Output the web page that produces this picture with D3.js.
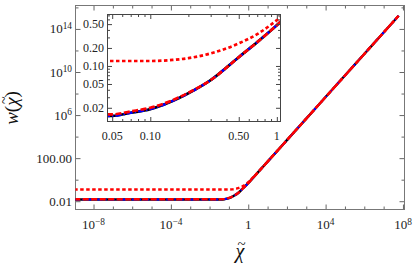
<!DOCTYPE html>
<html>
<head>
<meta charset="utf-8">
<script src="https://cdn.jsdelivr.net/npm/d3@7"></script>
<style>
  body { margin: 0; background: #fff; }
  svg { display: block; }
</style>
</head>
<body>
<div id="chart"></div>
<script>
// values
const chi = [1e-9, 1e-8, 1e-6, 1e-4, 1e-2, 0.05, 0.07, 0.1, 0.15, 0.2, 0.3, 0.5, 0.7, 1, 2, 3, 5, 10, 100, 1e3, 1e4, 1e5, 1e6, 1e7, 6e7];
const wSolid   = [0.0142, 0.0142, 0.0142, 0.0142, 0.0143, 0.0146, 0.0165, 0.019, 0.026, 0.035, 0.058, 0.14, 0.25, 0.48, 1.9, 4.3, 11.8, 47, 4.7e3, 4.7e5, 4.7e7, 4.7e9, 4.7e11, 4.7e13, 1.7e15];
const wDashDot = [0.0142, 0.0142, 0.0142, 0.0142, 0.0143, 0.0146, 0.0165, 0.019, 0.026, 0.035, 0.058, 0.14, 0.25, 0.48, 1.9, 4.3, 11.8, 47, 4.7e3, 4.7e5, 4.7e7, 4.7e9, 4.7e11, 4.7e13, 1.7e15];
const wDashed  = [0.0152, 0.0152, 0.0152, 0.0152, 0.0153, 0.0155, 0.0174, 0.020, 0.0268, 0.0357, 0.058, 0.14, 0.25, 0.48, 1.9, 4.3, 11.8, 47, 4.7e3, 4.7e5, 4.7e7, 4.7e9, 4.7e11, 4.7e13, 1.7e15];
const wDotted  = [0.121, 0.121, 0.121, 0.121, 0.121, 0.121, 0.121, 0.121, 0.126, 0.135, 0.162, 0.238, 0.34, 0.58, 2.05, 4.4, 12, 47.5, 4.7e3, 4.7e5, 4.7e7, 4.7e9, 4.7e11, 4.7e13, 1.7e15];

const xMainLabels = [1e-8, 1e-4, 1, 1e4, 1e8];
const yMainLabels = [1e-2, 1e2, 1e6, 1e10, 1e14];
const xInsetLabels = [0.05, 0.1, 0.5, 1];
const yInsetLabels = [0.02, 0.05, 0.1, 0.2, 0.5];

const series = [
  { w: wSolid,   color: "#000",    width: 2.4, dash: null },
  { w: wDashDot, color: "#0000ff", width: 2.1, dash: "6,2,1.5,2" },
  { w: wDashed,  color: "#ff0000", width: 2.4, dash: "6,2.5" },
  { w: wDotted,  color: "#ff0000", width: 2.4, dash: "3.5,2.5" }
];

const FONT = "'Liberation Serif', 'Times New Roman', 'DejaVu Serif', serif";
const W = 415, H = 269;
const svg = d3.select("#chart").append("svg")
    .attr("width", W)
    .attr("height", H)
    .attr("font-family", FONT)
    .style("font-family", FONT);

// main plot
const x = d3.scaleLog().domain([1.17e-9, 1.2e8]).range([75.5, 404.5]);
const y = d3.scaleLog().domain([1.7e-3, 1.5e16]).range([209.5, 5.5]);

svg.append("clipPath").attr("id", "clipMain")
  .append("rect")
    .attr("x", 75.5).attr("y", 5.5)
    .attr("width", 329).attr("height", 204);

function sup(sel, oneAsText) {
  sel.each(function(d) {
    const t = d3.select(this);
    const e = Math.round(Math.log10(d));
    const s = oneAsText(d, e);
    if (s !== null) { t.text(s); return; }
    t.append("tspan").text("10");
    t.append("tspan")
      .attr("dy", "-0.45em")
      .attr("font-size", "0.72em")
      .text(String(e).replace("-", "\u2212"));
  });
}

const near = (list, d) => list.some(v => Math.abs(Math.log10(v) - Math.log10(d)) < 0.001);

// x axis (bottom + top)
const xMinor = d3.range(-8, 9).map(e => Math.pow(10, e));
const gxb = svg.append("g").attr("transform", "translate(0,209.5)")
  .call(d3.axisBottom(x).tickValues(xMinor).tickSizeOuter(0).tickFormat(""));
gxb.selectAll(".tick line").attr("y2", d => near(xMainLabels, d) ? -5 : -3);
const gxt = svg.append("g").attr("transform", "translate(0,5.5)")
  .call(d3.axisTop(x).tickValues(xMinor).tickSizeOuter(0).tickFormat(""));
gxt.selectAll(".tick line").attr("y2", d => near(xMainLabels, d) ? 5 : 3);

svg.append("g").selectAll("text")
  .data(xMainLabels)
  .join("text")
    .attr("x", d => x(d))
    .attr("y", 229)
    .attr("text-anchor", "middle")
    .attr("font-size", 13)
    .attr("fill", "#222")
    .call(sup, (d, e) => e === 0 ? "1" : null);

// y axis (left + right)
const yMinor = d3.range(-2, 17, 2).map(e => Math.pow(10, e));
const gyl = svg.append("g").attr("transform", "translate(75.5,0)")
  .call(d3.axisLeft(y).tickValues(yMinor).tickSizeOuter(0).tickFormat(""));
gyl.selectAll(".tick line").attr("x2", d => near(yMainLabels, d) ? 5 : 3);
const gyr = svg.append("g").attr("transform", "translate(404.5,0)")
  .call(d3.axisRight(y).tickValues(yMinor).tickSizeOuter(0).tickFormat(""));
gyr.selectAll(".tick line").attr("x2", d => near(yMainLabels, d) ? -5 : -3);

svg.append("g").selectAll("text")
  .data(yMainLabels)
  .join("text")
    .attr("x", 72)
    .attr("y", d => y(d) + 4.5)
    .attr("text-anchor", "end")
    .attr("font-size", 13)
    .attr("fill", "#222")
    .call(sup, (d, e) => e === -2 ? "0.01" : (e === 2 ? "100.00" : null));

svg.selectAll(".domain").remove();
svg.selectAll(".tick line").attr("stroke", "#666");

svg.append("rect")
    .attr("x", 75.5).attr("y", 5.5)
    .attr("width", 329).attr("height", 204)
    .attr("fill", "none")
    .attr("stroke", "#777")
    .attr("stroke-width", 1);

const lineMain = w => d3.line()
    .x((d, i) => x(chi[i]))
    .y((d, i) => y(w[i]))
    .curve(d3.curveMonotoneX)(w);

svg.append("g").attr("clip-path", "url(#clipMain)")
  .selectAll("path")
  .data(series)
  .join("path")
    .attr("d", s => lineMain(s.w))
    .attr("fill", "none")
    .attr("stroke", s => s.color)
    .attr("stroke-width", s => s.width)
    .attr("stroke-dasharray", s => s.dash);

// axis titles: chi with a tilde tspan pulled back over it, in one text
function chiTilde(text, size, after) {
  const c = text.append("tspan").attr("font-style", "italic").text("\u03c7");
  const t = text.append("tspan").attr("font-size", size * 0.75).text("~");
  const cw = c.node().getComputedTextLength();
  const tw = t.node().getComputedTextLength();
  const dx = -(cw + tw) / 2 + size * 0.08;
  const dy = -size * 0.47;
  t.attr("dx", dx).attr("dy", dy);
  if (after) text.append("tspan").attr("dx", -(dx + tw)).attr("dy", -dy).text(after);
  return cw;
}

const gy = svg.append("g").attr("transform", "translate(18,108) rotate(-90)");
const ylab = gy.append("text")
    .attr("font-size", 19)
    .attr("fill", "#111");
ylab.append("tspan").attr("font-style", "italic").text("w");
ylab.append("tspan").text("(");
chiTilde(ylab, 19, ")");
const yw = ylab.node().getStartPositionOfChar(0).x;
const ylen = ylab.node().getEndPositionOfChar(ylab.node().getNumberOfChars() - 1).x - yw;
ylab.attr("x", -ylen / 2);

const xlab = svg.append("text")
    .attr("y", 258)
    .attr("font-size", 20)
    .attr("fill", "#111");
const cw = chiTilde(xlab, 20, null);
xlab.attr("x", 240 - cw / 2);

// inset
const xi = d3.scaleLog().domain([0.0459, 1.069]).range([107.5, 280.5]);
const yi = d3.scaleLog().domain([0.0118, 0.724]).range([121.5, 14.5]);

const inset = svg.append("g");
inset.append("rect")
    .attr("x", 107.5).attr("y", 14.5)
    .attr("width", 173).attr("height", 107)
    .attr("fill", "#fff");

svg.append("clipPath").attr("id", "clipInset")
  .append("rect")
    .attr("x", 107.5).attr("y", 14.5)
    .attr("width", 173).attr("height", 107);

const lineInset = w => d3.line()
    .x((d, i) => xi(chi[i]))
    .y((d, i) => yi(w[i]))
    .curve(d3.curveMonotoneX)(w);

inset.append("g").attr("clip-path", "url(#clipInset)")
  .selectAll("path")
  .data(series)
  .join("path")
    .attr("d", s => lineInset(s.w))
    .attr("fill", "none")
    .attr("stroke", s => s.color)
    .attr("stroke-width", s => s.width + 0.3)
    .attr("stroke-dasharray", s => s.dash);

const isMajor = (list, d) => list.some(v => Math.abs(v - d) < 1e-9);
const gib = inset.append("g").attr("transform", "translate(0,121.5)")
  .call(d3.axisBottom(xi).ticks(20).tickSizeOuter(0).tickFormat(""));
gib.selectAll(".tick line").attr("y2", d => isMajor(xInsetLabels, d) ? -4.5 : -2.5);
const git = inset.append("g").attr("transform", "translate(0,14.5)")
  .call(d3.axisTop(xi).ticks(20).tickSizeOuter(0).tickFormat(""));
git.selectAll(".tick line").attr("y2", d => isMajor(xInsetLabels, d) ? 4.5 : 2.5);
const gil = inset.append("g").attr("transform", "translate(107.5,0)")
  .call(d3.axisLeft(yi).ticks(20).tickSizeOuter(0).tickFormat(""));
gil.selectAll(".tick line").attr("x2", d => isMajor(yInsetLabels, d) ? 4.5 : 2.5);
const gir = inset.append("g").attr("transform", "translate(280.5,0)")
  .call(d3.axisRight(yi).ticks(20).tickSizeOuter(0).tickFormat(""));
gir.selectAll(".tick line").attr("x2", d => isMajor(yInsetLabels, d) ? -4.5 : -2.5);
inset.selectAll(".domain").remove();
inset.selectAll(".tick line").attr("stroke", "#444");

inset.append("rect")
    .attr("x", 107.5).attr("y", 14.5)
    .attr("width", 173).attr("height", 107)
    .attr("fill", "none")
    .attr("stroke", "#444")
    .attr("stroke-width", 1);

inset.append("g").selectAll("text")
  .data(xInsetLabels)
  .join("text")
    .attr("x", d => xi(d))
    .attr("y", 140)
    .attr("text-anchor", "middle")
    .attr("font-size", 12)
    .attr("fill", "#222")
    .text(d => d === 1 ? "1" : d3.format(".2f")(d));

inset.append("g").selectAll("text")
  .data(yInsetLabels)
  .join("text")
    .attr("x", 104)
    .attr("y", d => yi(d) + 4)
    .attr("text-anchor", "end")
    .attr("font-size", 12)
    .attr("fill", "#222")
    .text(d => d3.format(".2f")(d));
</script>
</body>
</html>
